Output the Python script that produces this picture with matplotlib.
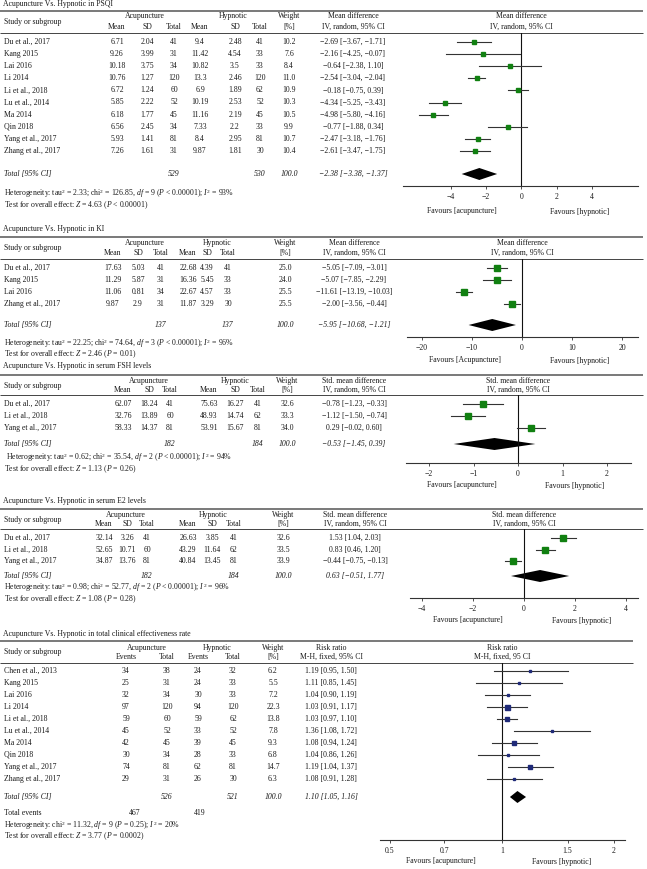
import numpy as np
import matplotlib
matplotlib.use("Agg")
import matplotlib.pyplot as plt
import matplotlib.transforms as mtransforms
from matplotlib.ticker import NullLocator

# ---------------- data ----------------
# PSQI
psqi_studies = ["Du et al., 2017", "Kang 2015", "Lai 2016", "Li 2014", "Li et al., 2018",
                "Lu et al., 2014", "Ma 2014", "Qin 2018", "Yang et al., 2017", "Zhang et al., 2017"]
psqi_acu_mean = [6.71, 9.26, 10.18, 10.76, 6.72, 5.85, 6.18, 6.56, 5.93, 7.26]
psqi_acu_sd = [2.04, 3.99, 3.75, 1.27, 1.24, 2.22, 1.77, 2.45, 1.41, 1.61]
psqi_acu_n = [41, 31, 34, 120, 60, 52, 45, 34, 81, 31]
psqi_hyp_mean = [9.4, 11.42, 10.82, 13.3, 6.9, 10.19, 11.16, 7.33, 8.4, 9.87]
psqi_hyp_sd = [2.48, 4.54, 3.5, 2.46, 1.89, 2.53, 2.19, 2.2, 2.95, 1.81]
psqi_hyp_n = [41, 33, 33, 120, 62, 52, 45, 33, 81, 30]
psqi_weight = [10.2, 7.6, 8.4, 11.0, 10.9, 10.3, 10.5, 9.9, 10.7, 10.4]
psqi_est = [-2.69, -2.16, -0.64, -2.54, -0.18, -4.34, -4.98, -0.77, -2.47, -2.61]
psqi_lo = [-3.67, -4.25, -2.38, -3.04, -0.75, -5.25, -5.80, -1.88, -3.18, -3.47]
psqi_hi = [-1.71, -0.07, 1.10, -2.04, 0.39, -3.43, -4.16, 0.34, -1.76, -1.75]
psqi_total = (-2.38, -3.38, -1.37)

# KI
ki_studies = ["Du et al., 2017", "Kang 2015", "Lai 2016", "Zhang et al., 2017"]
ki_acu_mean = [17.63, 11.29, 11.06, 9.87]
ki_acu_sd = [5.03, 5.87, 0.81, 2.9]
ki_acu_n = [41, 31, 34, 31]
ki_hyp_mean = [22.68, 16.36, 22.67, 11.87]
ki_hyp_sd = [4.39, 5.45, 4.57, 3.29]
ki_hyp_n = [41, 33, 33, 30]
ki_weight = [25.0, 24.0, 25.5, 25.5]
ki_est = [-5.05, -5.07, -11.61, -2.00]
ki_lo = [-7.09, -7.85, -13.19, -3.56]
ki_hi = [-3.01, -2.29, -10.03, -0.44]
ki_total = (-5.95, -10.68, -1.21)

# FSH
fsh_studies = ["Du et al., 2017", "Li et al., 2018", "Yang et al., 2017"]
fsh_acu_mean = [62.07, 32.76, 58.33]
fsh_acu_sd = [18.24, 13.89, 14.37]
fsh_acu_n = [41, 60, 81]
fsh_hyp_mean = [75.63, 48.93, 53.91]
fsh_hyp_sd = [16.27, 14.74, 15.67]
fsh_hyp_n = [41, 62, 81]
fsh_weight = [32.6, 33.3, 34.0]
fsh_est = [-0.78, -1.12, 0.29]
fsh_lo = [-1.23, -1.50, -0.02]
fsh_hi = [-0.33, -0.74, 0.60]
fsh_total = (-0.53, -1.45, 0.39)

# E2
e2_studies = ["Du et al., 2017", "Li et al., 2018", "Yang et al., 2017"]
e2_acu_mean = [32.14, 52.65, 34.87]
e2_acu_sd = [3.26, 10.71, 13.76]
e2_acu_n = [41, 60, 81]
e2_hyp_mean = [26.63, 43.29, 40.84]
e2_hyp_sd = [3.85, 11.64, 13.45]
e2_hyp_n = [41, 62, 81]
e2_weight = [32.6, 33.5, 33.9]
e2_est = [1.53, 0.83, -0.44]
e2_lo = [1.04, 0.46, -0.75]
e2_hi = [2.03, 1.20, -0.13]
e2_total = (0.63, -0.51, 1.77)

# total clinical effectiveness rate
eff_studies = ["Chen et al., 2013", "Kang 2015", "Lai 2016", "Li 2014", "Li et al., 2018",
               "Lu et al., 2014", "Ma 2014", "Qin 2018", "Yang et al., 2017", "Zhang et al., 2017"]
eff_acu_events = [34, 25, 32, 97, 59, 45, 42, 30, 74, 29]
eff_acu_n = [38, 31, 34, 120, 60, 52, 45, 34, 81, 31]
eff_hyp_events = [24, 24, 30, 94, 59, 33, 39, 28, 62, 26]
eff_hyp_n = [32, 33, 33, 120, 62, 52, 45, 33, 81, 30]
eff_weight = [6.2, 5.5, 7.2, 22.3, 13.8, 7.8, 9.3, 6.8, 14.7, 6.3]
eff_est = [1.19, 1.11, 1.04, 1.03, 1.03, 1.36, 1.08, 1.04, 1.19, 1.08]
eff_lo = [0.95, 0.85, 0.90, 0.91, 0.97, 1.08, 0.94, 0.86, 1.04, 0.91]
eff_hi = [1.50, 1.45, 1.19, 1.17, 1.10, 1.72, 1.24, 1.26, 1.37, 1.28]
eff_total = (1.10, 1.05, 1.16)

total_weight = "100.0"

# ---------------- style ----------------
W, H = 647, 869
FS = 5.6
plt.rcParams['font.family'] = 'Liberation Serif'
plt.rcParams['mathtext.fontset'] = 'custom'
plt.rcParams['mathtext.rm'] = 'Liberation Serif'
plt.rcParams['mathtext.it'] = 'Liberation Serif:italic'
GREEN = '#118011'
NAVY = '#1f2a78'

fig = plt.figure(figsize=(W / 100, H / 100), dpi=100)
base = fig.add_axes([0, 0, 1, 1])
base.set_xlim(0, W)
base.set_ylim(H, 0)
base.axis('off')


def num(v):
    return f"{v:g}".replace('-', '\u2212')


def ci(e, l, h):
    return f"{e:.2f} [{l:.2f}, {h:.2f}]".replace('-', '\u2212')


def txt(x, y, s, ha='center', style='normal', color='#1a1a1a'):
    base.text(x, y, s, ha=ha, va='center', fontsize=FS, style=style, color=color)


def hline(y, x1, lw, color):
    base.plot([0, x1], [y, y], color=color, lw=lw, solid_capstyle='butt')


def panel(p):
    L = p['lay']
    line_end = L.get('line_end', 643)
    txt(3, L['title'], p['title'], ha='left')
    hline(L['top'], line_end, 1.1, '#555555')
    hline(L['hline'], line_end, 0.7, '#444444')
    txt(4, (L['h1'] + L['h2']) / 2, 'Study or subgroup', ha='left')
    for lab, x in zip(['Acupuncture', 'Hypnotic'], p['group_x']):
        txt(x, L['h1'], lab)
    for lab, x in zip(p['subheads'], p['col_x']):
        txt(x, L['h2'], lab)
    txt(p['w_x'], L['h1'], 'Weight')
    txt(p['w_x'], L['h2'], '[%]')
    txt(p['eff_x'], L['h1'], p['eff_head'][0])
    txt(p['eff_x'], L['h2'], p['eff_head'][1])

    n = len(p['studies'])
    rows_y = L['row0'] + L['dy'] * np.arange(n)
    for i, y in enumerate(rows_y):
        txt(4, y, p['studies'][i], ha='left')
        for col, x in zip(p['cols'], p['col_x']):
            txt(x, y, num(col[i]))
        txt(p['w_x'], y, f"{p['weight'][i]:.1f}")
        txt(p['eff_x'], y, ci(p['est'][i], p['lo'][i], p['hi'][i]))

    ty = L['total']
    txt(4, ty, 'Total [95% CI]', ha='left', style='italic')
    for tot, x in zip(p['totals'], p['total_x']):
        txt(x, ty, str(tot), style='italic')
    txt(p['w_x'], ty, total_weight, style='italic')
    txt(p['eff_x'], ty, ci(*p['total']), style='italic')

    txt(L.get('het_x', 4), L['het'], p['het'], ha='left')
    txt(4, L['test'], p['test'], ha='left')

    # forest plot
    x0, x1 = L['x0'], L['x1']
    ya = L['axis']
    ax = fig.add_axes([x0 / W, 1 - ya / H, (x1 - x0) / W, (ya - L['hline']) / H])
    ax.patch.set_alpha(0)
    if p.get('log'):
        ax.set_xscale('log')
    ax.set_xlim(L['xlim'])
    ax.set_ylim(ya, L['hline'])
    for s in ['top', 'left', 'right']:
        ax.spines[s].set_visible(False)
    ax.spines['bottom'].set_linewidth(0.8)
    ax.spines['bottom'].set_color('#333333')
    ax.set_yticks([])
    ax.set_xticks(p['ticks'], [num(t) for t in p['ticks']])
    ax.xaxis.set_minor_locator(NullLocator())
    ax.tick_params(axis='x', length=2.5, width=0.6, labelsize=FS, pad=2.5,
                   colors='#333333', labelcolor='#1a1a1a')
    ax.axvline(p['null'], color='#111111', lw=0.8)
    wmax = max(p['weight'])
    for y, e, l, h, w in zip(rows_y, p['est'], p['lo'], p['hi'], p['weight']):
        ax.plot([l, h], [y, y], color='#333333', lw=0.8, clip_on=False)
        ax.plot(e, y, 's', ms=p['ms'] * np.sqrt(w / wmax), color=p['color'],
                mec=p['color'], clip_on=False)
    e, l, h = p['total']
    ax.fill([l, e, h, e], [ty, ty - 6, ty, ty + 6], color='k', lw=0, clip_on=False)

    tr = mtransforms.blended_transform_factory(ax.transData, base.transData)
    for yy, s in zip([L['h1'], L['h2']], p['plot_head']):
        ax.text(p['null'], yy, s, transform=tr, ha='center', va='center', fontsize=FS,
                color='#1a1a1a', clip_on=False)
    txt(p['fav_x'][0], L['fav'], p['fav'][0])
    txt(p['fav_x'][1], L['fav'] + 1, p['fav'][1])
    return ax


cont_sub = ['Mean', 'SD', 'Total', 'Mean', 'SD', 'Total']

panel(dict(
    title='Acupuncture Vs. Hypnotic in PSQI',
    lay=dict(title=4, top=11, h1=16, h2=27, hline=33, row0=42, dy=12.1, total=174,
             het=194, test=205, fav=211, axis=186, x0=403, x1=638, xlim=(-6.7, 6.6)),
    studies=psqi_studies,
    cols=[psqi_acu_mean, psqi_acu_sd, psqi_acu_n, psqi_hyp_mean, psqi_hyp_sd, psqi_hyp_n],
    col_x=[117, 147, 174, 200, 235, 260], group_x=[145, 233], subheads=cont_sub,
    w_x=289, eff_x=353, eff_head=['Mean difference', 'IV, random, 95% CI'],
    plot_head=['Mean difference', 'IV, random, 95% CI'],
    weight=psqi_weight, est=psqi_est, lo=psqi_lo, hi=psqi_hi, total=psqi_total,
    totals=[sum(psqi_acu_n), sum(psqi_hyp_n)], total_x=[174, 260],
    het=r'Heterogeneity: tau$^2$ = 2.33; chi$^2$ = 126.85, $df$ = 9 ($P$ < 0.00001); $I^2$ = 93%',
    test=r'Test for overall effect: $Z$ = 4.63 ($P$ < 0.00001)',
    ticks=[-4, -2, 0, 2, 4], null=0, ms=3.2, color=GREEN,
    fav=['Favours [acupuncture]', 'Favours [hypnotic]'], fav_x=[462, 580]))

panel(dict(
    title='Acupuncture Vs. Hypnotic in KI',
    lay=dict(title=229, top=237, h1=243, h2=253, hline=259, row0=268, dy=12, total=325,
             het=343, test=354, fav=360, axis=337, x0=407, x1=638, xlim=(-23, 23.2)),
    studies=ki_studies,
    cols=[ki_acu_mean, ki_acu_sd, ki_acu_n, ki_hyp_mean, ki_hyp_sd, ki_hyp_n],
    col_x=[113, 138, 161, 188, 207, 228], group_x=[145, 217], subheads=cont_sub,
    w_x=285, eff_x=354, eff_head=['Mean difference', 'IV, random, 95% CI'],
    plot_head=['Mean difference', 'IV, random, 95% CI'],
    weight=ki_weight, est=ki_est, lo=ki_lo, hi=ki_hi, total=ki_total,
    totals=[sum(ki_acu_n), sum(ki_hyp_n)], total_x=[161, 228],
    het=r'Heterogeneity: tau$^2$ = 22.25; chi$^2$ = 74.64, $df$ = 3 ($P$ < 0.00001); $I^2$ = 96%',
    test=r'Test for overall effect: $Z$ = 2.46 ($P$ = 0.01)',
    ticks=[-20, -10, 0, 10, 20], null=0, ms=3.8, color=GREEN,
    fav=['Favours [Acupuncture]', 'Favours [hypnotic]'], fav_x=[465, 580]))

panel(dict(
    title='Acupuncture Vs. Hypnotic in serum FSH levels',
    lay=dict(title=366, top=375, h1=381, h2=390, hline=395, row0=404, dy=12, total=444,
             het=458, test=469, fav=485, axis=463, x0=406, x1=631, xlim=(-2.52, 2.54),
             het_x=6),
    studies=fsh_studies,
    cols=[fsh_acu_mean, fsh_acu_sd, fsh_acu_n, fsh_hyp_mean, fsh_hyp_sd, fsh_hyp_n],
    col_x=[123, 149, 170, 209, 235, 258], group_x=[149, 235], subheads=cont_sub,
    w_x=287, eff_x=354, eff_head=['Std. mean difference', 'IV, random, 95% CI'],
    plot_head=['Std. mean difference', 'IV, random, 95% CI'],
    weight=fsh_weight, est=fsh_est, lo=fsh_lo, hi=fsh_hi, total=fsh_total,
    totals=[sum(fsh_acu_n), sum(fsh_hyp_n)], total_x=[170, 258],
    het=r'Heterogeneity: tau$^2$ = 0.62; chi$^2$ = 35.54, $df$ = 2 ($P$ < 0.00001); $I^2$ = 94%',
    test=r'Test for overall effect: $Z$ = 1.13 ($P$ = 0.26)',
    ticks=[-2, -1, 0, 1, 2], null=0, ms=4.4, color=GREEN,
    fav=['Favours [acupuncture]', 'Favours [hypnotic]'], fav_x=[462, 575]))

panel(dict(
    title='Acupuncture Vs. Hypnotic in serum E2 levels',
    lay=dict(title=501, top=509, h1=515, h2=524, hline=529, row0=538, dy=11.5, total=576,
             het=587, test=599, fav=620, axis=598, x0=410, x1=638, xlim=(-4.47, 4.47)),
    studies=e2_studies,
    cols=[e2_acu_mean, e2_acu_sd, e2_acu_n, e2_hyp_mean, e2_hyp_sd, e2_hyp_n],
    col_x=[104, 127, 147, 188, 212, 234], group_x=[126, 213], subheads=cont_sub,
    w_x=283, eff_x=355, eff_head=['Std. mean difference', 'IV, random, 95% CI'],
    plot_head=['Std. mean difference', 'IV, random, 95% CI'],
    weight=e2_weight, est=e2_est, lo=e2_lo, hi=e2_hi, total=e2_total,
    totals=[sum(e2_acu_n), sum(e2_hyp_n)], total_x=[147, 234],
    het=r'Heterogeneity: tau$^2$ = 0.98; chi$^2$ = 52.77, $df$ = 2 ($P$ < 0.00001); $I^2$ = 96%',
    test=r'Test for overall effect: $Z$ = 1.08 ($P$ = 0.28)',
    ticks=[-4, -2, 0, 2, 4], null=0, ms=4.4, color=GREEN,
    fav=['Favours [acupuncture]', 'Favours [hypnotic]'], fav_x=[468, 582]))

eff_lay = dict(title=634, top=641, h1=648, h2=657, hline=663, row0=671, dy=12, total=797,
               het=825, test=836, fav=861, axis=840, x0=380, x1=625, xlim=(0.47, 2.14),
               line_end=633)
panel(dict(
    title='Acupuncture Vs. Hypnotic in total clinical effectiveness rate',
    lay=eff_lay,
    studies=eff_studies,
    cols=[eff_acu_events, eff_acu_n, eff_hyp_events, eff_hyp_n],
    col_x=[126, 167, 198, 233], group_x=[147, 217], subheads=['Events', 'Total', 'Events', 'Total'],
    w_x=273, eff_x=331, eff_head=['Risk ratio', 'M-H, fixed, 95% CI'],
    plot_head=['Risk ratio', 'M-H, fixed, 95 CI'],
    weight=eff_weight, est=eff_est, lo=eff_lo, hi=eff_hi, total=eff_total,
    totals=[sum(eff_acu_n), sum(eff_hyp_n)], total_x=[167, 233],
    het=r'Heterogeneity: chi$^2$ = 11.32, $df$ = 9 ($P$ = 0.25); $I^2$ = 20%',
    test=r'Test for overall effect: $Z$ = 3.77 ($P$ = 0.0002)',
    ticks=[0.5, 0.7, 1, 1.5, 2], null=1, log=True, ms=3.6, color=NAVY,
    fav=['Favours [acupuncture]', 'Favours [hypnotic]'], fav_x=[441, 562]))

# total events row of the dichotomous panel
txt(4, 813, 'Total events', ha='left')
txt(135, 813, str(sum(eff_acu_events)))
txt(200, 813, str(sum(eff_hyp_events)))

fig.savefig('out.png', dpi=100)
